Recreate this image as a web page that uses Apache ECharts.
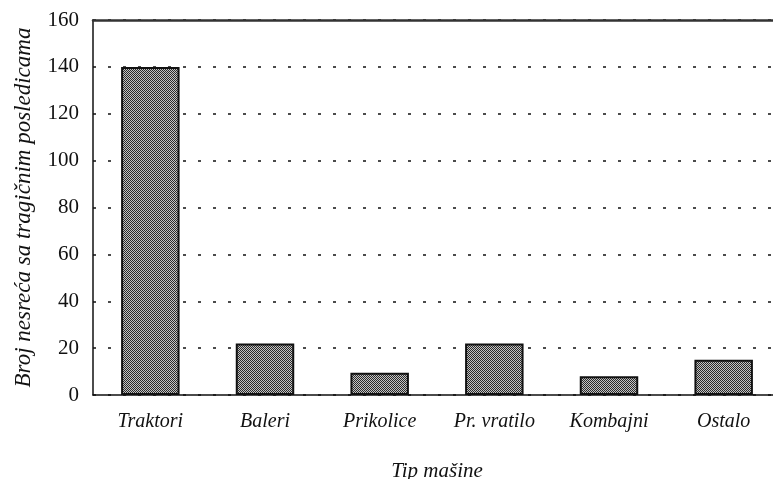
<!DOCTYPE html>
<html>
<head>
<meta charset="utf-8">
<script src="https://cdn.jsdelivr.net/npm/echarts@6/dist/echarts.min.js"></script>
<style>
  html, body { margin: 0; padding: 0; background: #fff; }
  #chart { width: 773px; height: 479px; }
</style>
</head>
<body>
<div id="chart"></div>
<script>
const categories = ['Traktori', 'Baleri', 'Prikolice', 'Pr. vratilo', 'Kombajni', 'Ostalo'];
const accidents = [140, 22, 9.5, 22, 8, 15];
const yTicks = { min: 0, max: 160, interval: 20 };

// stippled fill like the printed figure
const makePattern = () => {
  const c = document.createElement('canvas');
  c.width = 4;
  c.height = 4;
  const ctx = c.getContext('2d');
  ctx.fillStyle = '#c4c4c4';
  ctx.fillRect(0, 0, 4, 4);
  ctx.fillStyle = '#2a2a2a';
  for (let y = 0; y < 4; y++) {
    for (let x = 0; x < 4; x++) {
      if ((x + y) % 2 === 0) ctx.fillRect(x, y, 1, 1);
    }
  }
  return c;
};

const font = '"Liberation Serif", "DejaVu Serif", serif';

const chart = echarts.init(document.getElementById('chart'));
chart.setOption({
  animation: false,
  grid: { left: 93, top: 20, bottom: 84, width: 688, containLabel: false, outerBoundsMode: 'none' },
  xAxis: [
    {
      type: 'category',
      data: categories,
      name: 'Tip mašine',
      nameLocation: 'middle',
      nameGap: 66,
      nameTextStyle: { fontFamily: font, fontStyle: 'italic', fontSize: 21, color: '#111' },
      axisLine: { lineStyle: { color: '#111', width: 1.5 } },
      axisTick: { show: false },
      axisLabel: { margin: 17, fontFamily: font, fontStyle: 'italic', fontSize: 20, color: '#111' }
    },
    {
      type: 'category',
      data: categories,
      position: 'top',
      axisLine: { lineStyle: { color: '#333', width: 2.5 } },
      axisTick: { show: false },
      axisLabel: { show: false }
    }
  ],
  yAxis: {
    type: 'value',
    min: yTicks.min,
    max: yTicks.max,
    interval: yTicks.interval,
    name: 'Broj nesreća sa tragičnim posledicama',
    nameLocation: 'middle',
    nameGap: 58,
    nameTextStyle: { fontFamily: font, fontStyle: 'italic', fontSize: 23, color: '#111' },
    axisLine: { show: true, lineStyle: { color: '#111', width: 1.5 } },
    axisTick: { show: false },
    axisLabel: { margin: 14, fontFamily: font, fontSize: 21, color: '#111' },
    splitLine: { lineStyle: { color: '#111', type: [3, 12], width: 1.5 } }
  },
  series: [
    {
      type: 'bar',
      data: accidents,
      barWidth: '51%',
      itemStyle: {
        color: { image: makePattern(), repeat: 'repeat' },
        borderColor: '#111',
        borderWidth: 2
      }
    }
  ]
});
</script>
</body>
</html>
